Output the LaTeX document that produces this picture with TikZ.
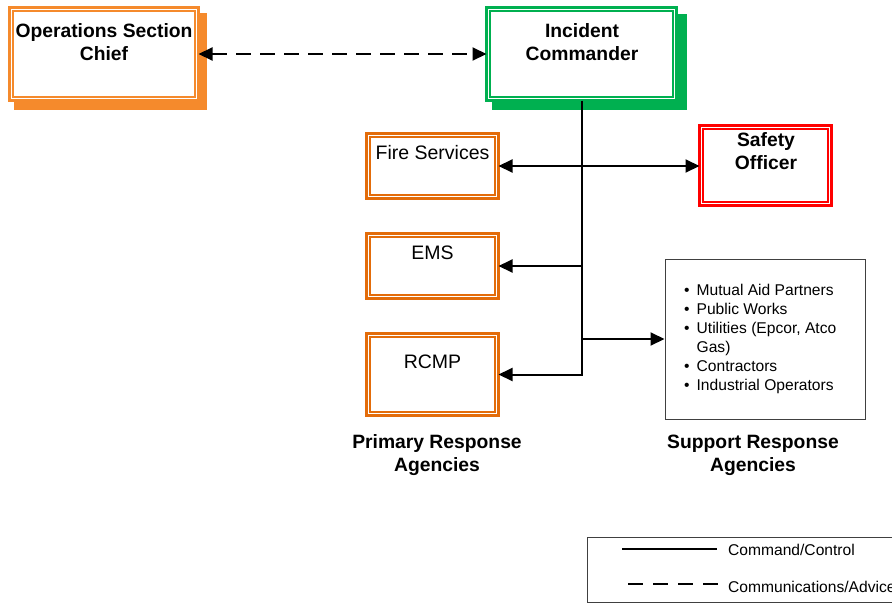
\documentclass[tikz,border=0pt]{standalone}
\usepackage{fontspec}
\setmainfont{Liberation Sans}
\usetikzlibrary{arrows.meta,calc}
\definecolor{opsorange}{HTML}{F58A2C}
\definecolor{agorange}{HTML}{E36C0A}
\definecolor{icgreen}{HTML}{00B050}
\definecolor{safred}{HTML}{FF0000}
\definecolor{boxgray}{HTML}{404040}
\newcommand{\innerframe}[2]{\draw[#2, line width=1.3pt] ($(#1.north west)+(3.6,3.6)$) rectangle ($(#1.south east)+(-3.6,-3.6)$);}
\begin{document}
\begin{tikzpicture}[x=1pt,y=-1pt,
  dbox/.style={rectangle, draw=#1, line width=2.6pt, fill=white, inner sep=0pt, outer sep=0pt},
  title/.style={font=\fontsize{19.3}{23}\selectfont\bfseries, align=center, inner sep=0pt},
  plain/.style={font=\fontsize{19.5}{23}\selectfont, inner sep=0pt},
  small/.style={font=\fontsize{15.6}{19}\selectfont, inner sep=0pt},
  tip/.tip={Triangle[length=14pt,width=13pt]},
  cmd/.style={line width=2pt, -tip},
  cmdboth/.style={line width=2pt, tip-tip},
  comm/.style={line width=2pt, dash pattern=on 15pt off 9pt, tip-tip},
  legline/.style={line width=2pt},
  legdash/.style={line width=2pt, dash pattern=on 15pt off 10pt}
]
\useasboundingbox (0,0) rectangle (892,603);

% shadows
\fill[opsorange] (14,13) rectangle (207,110);
\fill[icgreen] (492,14) rectangle (687,110);

% main boxes
\node[dbox=opsorange, minimum width=189pt, minimum height=93pt] (ops) at (104,54) {};
\node[dbox=icgreen, minimum width=190pt, minimum height=93pt] (ic) at (581.5,54) {};
\node[dbox=agorange, minimum width=132pt, minimum height=65pt] (fire) at (432.5,166) {};
\node[dbox=agorange, minimum width=132pt, minimum height=65pt] (ems) at (432.5,266) {};
\node[dbox=agorange, minimum width=132pt, minimum height=82pt] (rcmp) at (432.5,374.5) {};
\node[dbox=safred, minimum width=132pt, minimum height=80pt] (safety) at (765.5,165.5) {};
\node[rectangle, draw=boxgray, line width=1pt, fill=white, minimum width=200pt, minimum height=160pt, inner sep=0pt] (sup) at (765,339) {};

\innerframe{ops}{opsorange}
\innerframe{ic}{icgreen}
\innerframe{fire}{agorange}
\innerframe{ems}{agorange}
\innerframe{rcmp}{agorange}
\innerframe{safety}{safred}

% box texts
\node[title] (opsT) at (104,42.5) {Operations Section\\Chief};
\node[title] (icT) at (582,42.5) {Incident\\Commander};
\node[title] (safT) at (766,151.5) {Safety\\Officer};
\node[plain] (fireT) at (432.5,153) {Fire Services};
\node[plain] (emsT) at (432.5,253) {EMS};
\node[plain] (rcmpT) at (432.5,362) {RCMP};
\node[small, anchor=west] (supT) at (684,339.5) {%
  \begin{tabular}{@{}l@{\hspace{7pt}}l@{}}
  \textbullet & Mutual Aid Partners\\
  \textbullet & Public Works\\
  \textbullet & Utilities (Epcor, Atco\\
   & Gas)\\
  \textbullet & Contractors\\
  \textbullet & Industrial Operators
  \end{tabular}};

% group captions
\node[title] (primT) at (437,455) {Primary Response\\Agencies};
\node[title] (suppT) at (753,455) {Support Response\\Agencies};

% connectors
\draw[comm] (ops.east) -- (ic.west);
\draw[cmd] (ic.south) |- (rcmp.east);
\draw[cmd] (ic.south |- ems.east) -- (ems.east);
\draw[cmd] (ic.south |- sup.west) -- (sup.west);
\draw[cmdboth] (fire.east) -- (fire.east -| safety.west);

% legend
\node[rectangle, draw=boxgray, line width=1pt, anchor=north west, minimum width=320pt, minimum height=65pt, inner sep=0pt] (legend) at (587,537) {};
\coordinate (l1a) at (622,549);
\coordinate (l1b) at (717,549);
\coordinate (l2a) at (628,584);
\coordinate (l2b) at (723,584);
\draw[legline] (l1a) -- (l1b);
\draw[legdash] (l2a) -- (l2b);
\node[small, anchor=base west] (leg1) at (728,555.5) {Command/Control};
\node[small, anchor=base west] (leg2) at (728,592.5) {Communications/Advice};
\end{tikzpicture}
\end{document}
